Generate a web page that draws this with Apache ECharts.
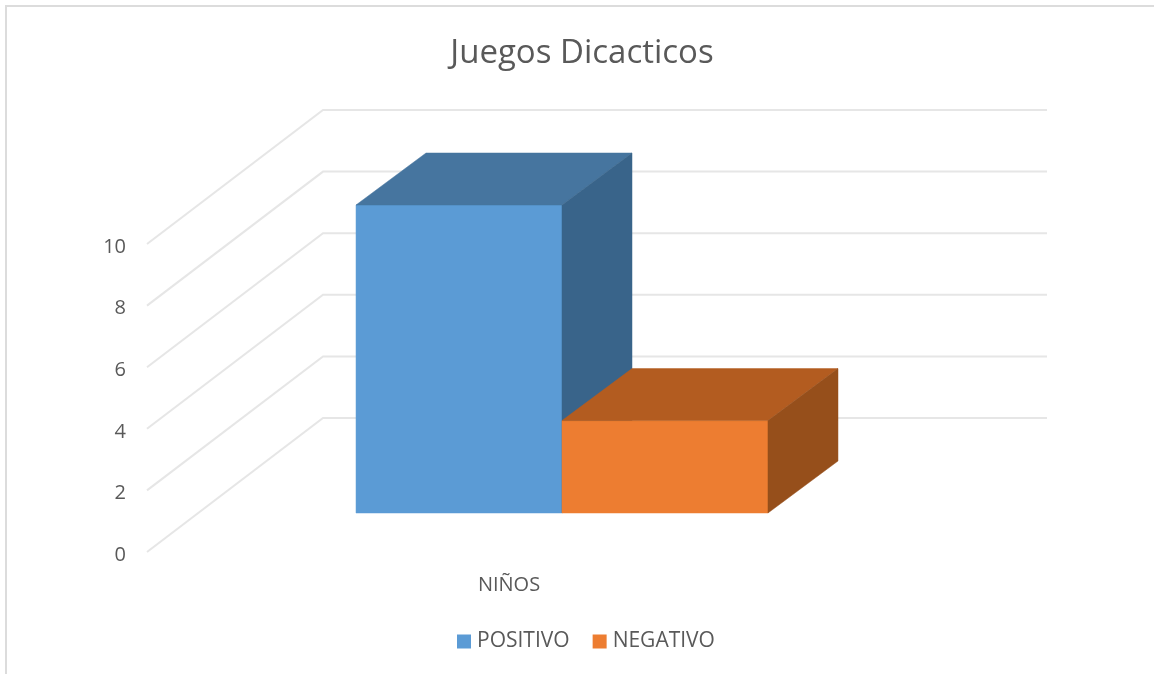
<!DOCTYPE html>
<html>
<head>
<meta charset="utf-8">
<style>html,body{margin:0;padding:0;background:#fff}#c{width:1154px;height:674px}</style>
<script src="https://cdn.jsdelivr.net/npm/echarts@6/dist/echarts.min.js"></script>
</head>
<body>
<div id="c"></div>
<script>
var categories = ['NIÑOS'];
var positivo = [10];
var negativo = [3];
var wallTicks = [0, 2, 4, 6, 8, 10];
var FONT = '"Open Sans", sans-serif';
var WALL = [176, -134], BAR_START = [53, -39], BAR_DEPTH = [70, -52], BAR_FRAC = 0.2845;

function bar3d(dir, front, top, side) {
  return function (params, api) {
    var base = api.coord([api.value(0), 0]);
    var head = api.coord([api.value(0), api.value(1)]);
    var w = api.size([1, 0])[0] * BAR_FRAC;
    var cx = base[0] + BAR_START[0];
    var x0 = dir < 0 ? cx - w : cx, x1 = x0 + w;
    var yb = base[1] + BAR_START[1], yt = head[1] + BAR_START[1];
    var dx = BAR_DEPTH[0], dy = BAR_DEPTH[1];
    function poly(points, color) {
      return { type: 'polygon', shape: { points: points }, style: { fill: color, stroke: color, lineWidth: 0.5 } };
    }
    return { type: 'group', children: [
      poly([[x0, yt], [x1, yt], [x1, yb], [x0, yb]], front),
      poly([[x0, yt], [x0 + dx, yt + dy], [x1 + dx, yt + dy], [x1, yt]], top),
      poly([[x1, yt], [x1 + dx, yt + dy], [x1 + dx, yb + dy], [x1, yb]], side)
    ]};
  };
}

function wallLine(params, api) {
  var p = api.coord([0, api.value(0)]);
  var cs = params.coordSys;
  var y = p[1];
  return { type: 'polyline', silent: true,
    shape: { points: [[cs.x, y], [cs.x + WALL[0], y + WALL[1]], [cs.x + cs.width + WALL[0], y + WALL[1]]] },
    style: { fill: null, stroke: '#e6e6e6', lineWidth: 2 } };
}

var chart = echarts.init(document.getElementById('c'), null, { renderer: 'canvas' });
chart.setOption({
  animation: false,
  backgroundColor: '#fff',
  title: { text: 'Juegos Dicacticos', left: 577, top: 32, textAlign: 'center',
    textStyle: { fontFamily: FONT, fontSize: 33, fontWeight: 'normal', color: '#595959' } },
  legend: { data: ['POSITIVO', 'NEGATIVO'], left: 452, top: 626, icon: 'rect', itemWidth: 14, itemHeight: 14, itemGap: 23,
    selectedMode: false,
    textStyle: { fontFamily: FONT, fontSize: 21, color: '#595959', padding: [0, 0, 0, 1] } },
  grid: { left: 147, width: 724, top: 244, height: 308 },
  xAxis: { type: 'category', data: categories, axisLine: { show: false }, axisTick: { show: false }, splitLine: { show: false },
    axisLabel: { margin: 23, fontFamily: FONT, fontSize: 20, color: '#595959' } },
  yAxis: { type: 'value', min: 0, max: 10, interval: 2, axisLine: { show: false }, axisTick: { show: false }, splitLine: { show: false },
    axisLabel: { margin: 21, fontFamily: FONT, fontSize: 20, color: '#595959', verticalAlign: 'top', lineHeight: 6 } },
  graphic: [{ type: 'polyline', silent: true, shape: { points: [[6, 674], [6, 6], [1154, 6]] },
    style: { fill: null, stroke: '#dcdcdc', lineWidth: 2 } }],
  series: [
    { type: 'custom', name: 'walls', data: wallTicks.map(function (v) { return [v]; }), encode: { y: 0 }, renderItem: wallLine, silent: true, z: 1 },
    { type: 'custom', name: 'POSITIVO', itemStyle: { color: '#5b9bd5' }, data: [[0, positivo[0]]], encode: { x: 0, y: 1 },
      renderItem: bar3d(-1, '#5b9bd5', '#46759f', '#39648a'), z: 2 },
    { type: 'custom', name: 'NEGATIVO', itemStyle: { color: '#ed7d31' }, data: [[0, negativo[0]]], encode: { x: 0, y: 1 },
      renderItem: bar3d(1, '#ed7d31', '#b35c20', '#964f1b'), z: 3 }
  ]
});
</script>
</body>
</html>
